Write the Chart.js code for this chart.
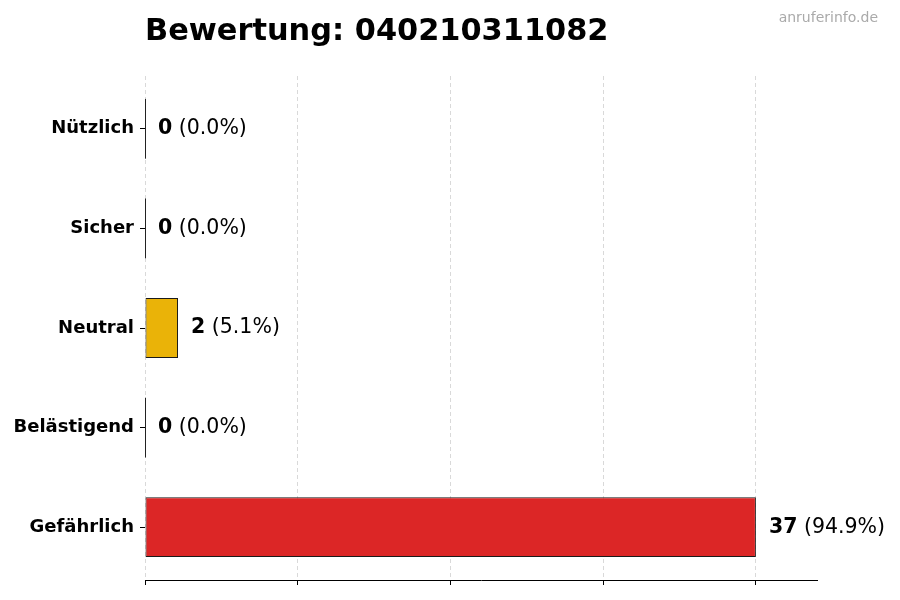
<!DOCTYPE html>
<html>
<head>
<meta charset="utf-8">
<script src="https://cdn.jsdelivr.net/npm/chart.js@4.4.1/dist/chart.umd.min.js"></script>
<style>
  html, body { margin: 0; padding: 0; background: #ffffff; }
  #wrap { width: 900px; height: 600px; position: relative; }
</style>
</head>
<body>
<div id="wrap"><canvas id="c" width="900" height="600"></canvas></div>
<script>
const titleText = 'Bewertung: 040210311082';
const watermark = 'anruferinfo.de';
const categories = ['Nützlich', 'Sicher', 'Neutral', 'Belästigend', 'Gefährlich'];
const counts = [0, 0, 2, 0, 37];
const barColors = ['#16A34A', '#2563EB', '#EAB308', '#F97316', '#DC2626'];

const total = counts.reduce((a, b) => a + b, 0);
const maxVal = Math.max(...counts);
const FONT = "'DejaVu Sans', 'Liberation Sans', sans-serif";
const points = counts.map((v, i) => ({ x: v, y: i }));

const decorPlugin = {
  id: 'decor',
  afterDatasetsDraw(chart) {
    const ctx = chart.ctx;
    const meta = chart.getDatasetMeta(0);
    ctx.save();
    meta.data.forEach((bar, i) => {
      const v = counts[i];
      const h = bar.height;
      if (v === 0) {
        ctx.strokeStyle = '#222';
        ctx.lineWidth = 1;
        ctx.beginPath();
        ctx.moveTo(Math.round(bar.x) + 0.5, bar.y - h / 2);
        ctx.lineTo(Math.round(bar.x) + 0.5, bar.y + h / 2);
        ctx.stroke();
      }
      const x0 = bar.x + 13;
      const pct = total ? (v / total * 100).toFixed(1) : '0.0';
      ctx.textBaseline = 'middle';
      ctx.textAlign = 'left';
      ctx.fillStyle = '#000';
      ctx.font = 'bold 20.5px ' + FONT;
      const s1 = String(v);
      ctx.fillText(s1, x0, bar.y);
      const w1 = ctx.measureText(s1).width;
      ctx.font = '20.5px ' + FONT;
      ctx.fillText(' (' + pct + '%)', x0 + w1, bar.y);
    });
    ctx.restore();
  },
  afterDraw(chart) {
    const ctx = chart.ctx;
    ctx.save();
    ctx.fillStyle = '#000';
    ctx.font = 'bold 30.4px ' + FONT;
    ctx.textAlign = 'left';
    ctx.textBaseline = 'alphabetic';
    ctx.fillText(titleText, chart.chartArea.left, 40);
    ctx.fillStyle = '#aaaaaa';
    ctx.font = '14px ' + FONT;
    ctx.textAlign = 'right';
    ctx.fillText(watermark, 878, 22);
    ctx.restore();
  }
};

new Chart(document.getElementById('c'), {
  type: 'bar',
  data: {
    datasets: [{
      data: points,
      backgroundColor: barColors,
      borderColor: '#1a1a1a',
      borderWidth: 1,
      borderSkipped: false,
      categoryPercentage: 1.0,
      barPercentage: 0.6
    }]
  },
  options: {
    indexAxis: 'y',
    responsive: false,
    animation: false,
    devicePixelRatio: 1,
    layout: { padding: { left: 0, right: 83, top: 76, bottom: 15 } },
    plugins: {
      legend: { display: false },
      title: { display: false },
      tooltip: { enabled: false }
    },
    scales: {
      x: {
        type: 'linear',
        min: 0,
        max: maxVal * 1.1,
        afterBuildTicks(scale) {
          scale.ticks = [0, 0.25, 0.5, 0.75, 1].map(f => ({ value: f * maxVal }));
        },
        ticks: { display: false },
        grid: {
          display: true,
          drawOnChartArea: true,
          drawTicks: true,
          tickLength: 5,
          color: '#d9d9d9',
          tickColor: '#000',
          tickBorderDash: [],
          lineWidth: 1
        },
        border: { display: true, color: '#000', width: 1, dash: [4, 3] }
      },
      y: {
        type: 'linear',
        reverse: true,
        offset: false,
        min: -0.53,
        max: categories.length - 1 + 0.53,
        afterFit(scale) { scale.width = 145; },
        afterBuildTicks(scale) {
          scale.ticks = categories.map((c, i) => ({ value: i }));
        },
        ticks: {
          color: '#000',
          padding: 6,
          font: { family: FONT, size: 18, weight: 'bold' },
          callback: (v) => categories[v] ?? ''
        },
        grid: {
          display: true,
          offset: false,
          drawOnChartArea: false,
          drawTicks: true,
          tickLength: 5,
          tickColor: '#000',
          color: '#000'
        },
        border: { display: false }
      }
    }
  },
  plugins: [decorPlugin]
});
</script>
</body>
</html>
